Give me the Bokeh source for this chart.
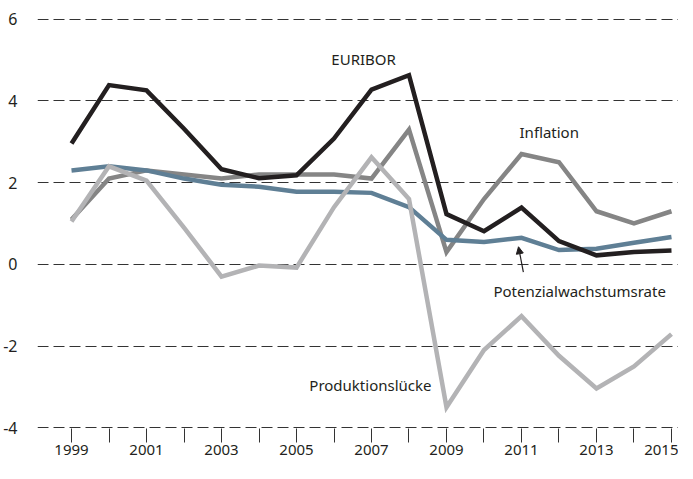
from bokeh.plotting import figure
from bokeh.models import Range1d, FixedTicker, Arrow, NormalHead, Label
from bokeh.embed import file_html
from bokeh.resources import INLINE

years = list(range(1999, 2016))
euribor = [2.96, 4.39, 4.26, 3.32, 2.33, 2.11, 2.18, 3.08, 4.28, 4.63, 1.23, 0.81, 1.39, 0.57, 0.22, 0.30, 0.34]
inflation = [1.1, 2.1, 2.3, 2.2, 2.1, 2.2, 2.2, 2.2, 2.1, 3.3, 0.3, 1.6, 2.7, 2.5, 1.3, 1.0, 1.3]
potenzial = [2.3, 2.4, 2.3, 2.1, 1.95, 1.9, 1.78, 1.78, 1.75, 1.4, 0.6, 0.55, 0.65, 0.35, 0.38, 0.53, 0.67]
luecke = [1.05, 2.4, 2.05, 0.9, -0.3, -0.03, -0.08, 1.4, 2.62, 1.6, -3.5, -2.1, -1.27, -2.24, -3.04, -2.5, -1.71]
y_ticks = [-4, -2, 0, 2, 4, 6]

FONT = "Noto Sans"
TXT = "#231f20"

p = figure(width=677, height=463, output_backend="svg", toolbar_location=None,
           x_range=Range1d(1998.093, 2015.187), y_range=Range1d(-4.02, 6.02),
           frame_width=641, frame_height=410,
           min_border_left=36, min_border_right=0, min_border_top=18, min_border_bottom=35)
p.outline_line_color = None
p.xgrid.grid_line_color = None
p.ygrid.ticker = FixedTicker(ticks=y_ticks)
p.ygrid.grid_line_color = "#333333"
p.ygrid.grid_line_dash = "11 5"
p.ygrid.grid_line_width = 1

p.yaxis.ticker = FixedTicker(ticks=y_ticks)
p.yaxis.major_label_overrides = {t: str(t) for t in y_ticks}
p.yaxis.axis_line_color = None
p.yaxis.major_tick_line_color = None
p.yaxis.minor_tick_line_color = None
p.yaxis.major_label_standoff = 14
p.yaxis.major_label_text_font = FONT
p.yaxis.major_label_text_font_size = "16px"
p.yaxis.major_label_text_color = TXT

p.xaxis.ticker = FixedTicker(ticks=years)
p.xaxis.axis_line_color = None
p.xaxis.major_tick_line_color = "#333333"
p.xaxis.major_tick_in = 0
p.xaxis.major_tick_out = 14
p.xaxis.minor_tick_line_color = None
p.xaxis.major_label_overrides = {y: (str(y) if y % 2 == 1 else "") for y in years}
p.xaxis.major_label_standoff = 2
p.xaxis.major_label_text_font = FONT
p.xaxis.major_label_text_font_size = "15px"
p.xaxis.major_label_text_color = TXT

LW = 4.5
p.line(years, inflation, line_color="#858585", line_width=LW, line_join="miter")
p.line(years, potenzial, line_color="#5f7f95", line_width=LW, line_join="miter")
p.line(years, luecke, line_color="#b3b3b5", line_width=LW, line_join="miter")
p.line(years, euribor, line_color="#231f20", line_width=LW, line_join="miter")

def lab(x, y, t, align="center"):
    p.add_layout(Label(x=x, y=y, text=t, text_align=align, text_baseline="middle",
                       text_font=FONT, text_font_size="15px", text_color=TXT))

lab(2006.79, 5.04, "EURIBOR")
lab(2011.74, 3.23, "Inflation")
lab(2012.55, -0.65, "Potenzialwachstumsrate")
lab(2008.6, -2.96, "Produktionslücke", align="right")

p.add_layout(Arrow(x_start=2011.05, y_start=-0.19, x_end=2010.92, y_end=0.43,
                   line_color=TXT, line_width=1.2,
                   end=NormalHead(size=7, fill_color=TXT, line_color=TXT)))

open("out.html", "w").write(file_html(p, INLINE))
